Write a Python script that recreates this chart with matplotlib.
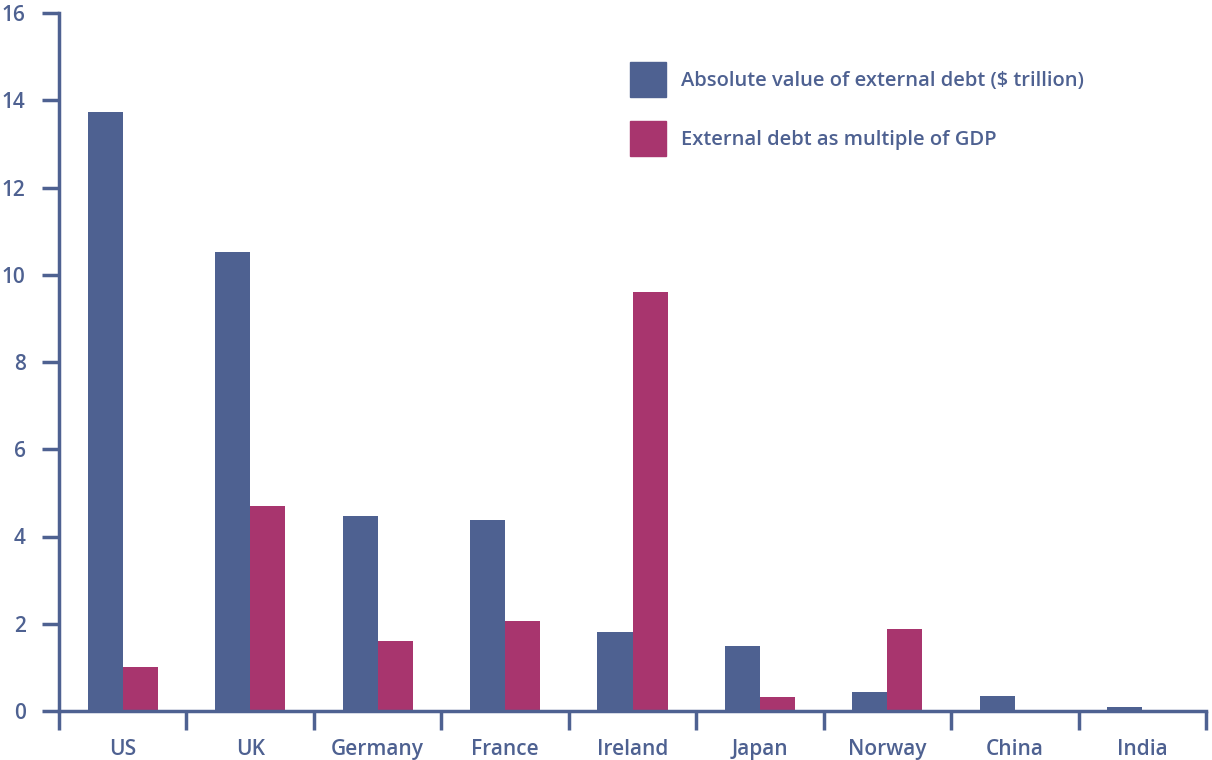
import matplotlib.pyplot as plt
import numpy as np
from matplotlib.patches import Patch

countries = ['US', 'UK', 'Germany', 'France', 'Ireland', 'Japan', 'Norway', 'China', 'India']
abs_debt = [13.72, 10.53, 4.48, 4.37, 1.82, 1.50, 0.44, 0.35, 0.10]
debt_gdp = [1.00, 4.71, 1.61, 2.07, 9.60, 0.31, 1.89, 0.0, 0.0]

BLUE = '#4E6191'
PINK = '#A8356E'

plt.rcParams['font.family'] = ['Open Sans', 'DejaVu Sans']
plt.rcParams['font.weight'] = 'semibold'

fig = plt.figure(figsize=(12.12, 7.6), dpi=100)
ax = fig.add_axes([59 / 1212, 1 - 711 / 760, (1206 - 59) / 1212, (711 - 13) / 760])

x = np.arange(len(countries))
w = 0.275
ax.bar(x - w / 2, abs_debt, w, color=BLUE)
ax.bar(x + w / 2, debt_gdp, w, color=PINK)

ax.set_xlim(-0.5, len(countries) - 0.5)
ax.set_ylim(0, 16)
ax.set_yticks(range(0, 17, 2))

# category boundary ticks on x axis, labels at centres
ax.set_xticks(np.arange(-0.5, len(countries)), minor=False)
ax.set_xticklabels([])
ax.set_xticks(x, minor=True)
ax.set_xticklabels(countries, minor=True)
ax.tick_params(axis='x', which='major', length=14, width=2.5, color=BLUE, direction='out')
ax.tick_params(axis='x', which='minor', length=0, pad=20, labelsize=15, labelcolor=BLUE)
ax.tick_params(axis='y', length=12, width=2.5, color=BLUE, pad=12, labelsize=15, labelcolor=BLUE)

for s in ['top', 'right']:
    ax.spines[s].set_visible(False)
for s in ['left', 'bottom']:
    ax.spines[s].set_color(BLUE)
    ax.spines[s].set_linewidth(2.5)

handles = [Patch(color=BLUE), Patch(color=PINK)]
labels = ['Absolute value of external debt ($ trillion)', 'External debt as multiple of GDP']
ax.legend(handles, labels, loc='upper left', bbox_to_anchor=(612 / 1212, 1 - 44 / 760),
          bbox_transform=fig.transFigure, frameon=False, fontsize=14.5, labelcolor=BLUE,
          handlelength=1.8, handleheight=2.3, labelspacing=1.2, handletextpad=0.75)

plt.savefig('out.png', dpi=100)
